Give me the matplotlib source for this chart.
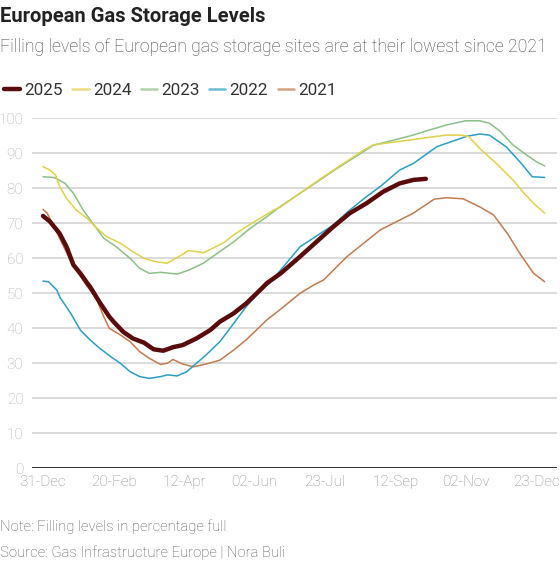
import matplotlib
matplotlib.use("Agg")
import matplotlib.pyplot as plt

plt.rcParams['font.family'] = ['Roboto', 'DejaVu Sans']

# days counted from 31-Dec, values in percent full
days_2025 = [0, 5, 12, 17, 22, 27, 32, 34, 41, 48, 51, 58, 65, 73, 80, 87, 94, 101, 111, 121,
             128, 138, 147, 157, 162, 172, 186, 210, 222, 234, 246, 258, 268, 277]
vals_2025 = [72.1, 70.5, 67.1, 63.3, 58.1, 55.7, 52.9, 51.9, 47.4, 43.3, 41.9, 39.0, 37.1, 35.9, 34.0, 33.6, 34.6, 35.2, 37.1, 39.5,
             41.9, 44.3, 47.1, 50.9, 52.9, 55.7, 60.5, 69.0, 72.9, 75.7, 79.0, 81.4, 82.4, 82.7]

days_2024 = [0, 5, 9, 12, 17, 24, 32, 39, 46, 56, 65, 73, 82, 90, 94, 100, 105, 111, 116, 123,
             131, 138, 147, 157, 167, 172, 196, 212, 232, 239, 256, 280, 292, 302, 308, 316, 328, 340, 348, 355, 363]
vals_2024 = [86.2, 85.2, 83.8, 80.5, 77.1, 73.8, 71.4, 68.6, 66.2, 64.3, 61.9, 60.0, 59.0, 58.6, 59.5, 60.9, 62.2, 61.9, 61.6, 62.9,
             64.5, 66.7, 69.0, 71.4, 73.8, 74.7, 81.4, 85.7, 90.9, 92.4, 93.3, 94.6, 95.2, 95.2, 94.8, 91.4, 87.1, 82.4, 78.6, 75.7, 72.9]

days_2023 = [0, 8, 16, 22, 29, 36, 44, 53, 63, 70, 77, 85, 97, 106, 116, 126, 138, 150, 162, 172,
             196, 212, 232, 239, 256, 266, 280, 292, 306, 316, 323, 331, 340, 350, 357, 363]
vals_2023 = [83.3, 83.1, 81.4, 78.6, 73.8, 70.0, 65.7, 63.3, 60.0, 57.1, 55.7, 56.0, 55.5, 56.7, 58.6, 61.4, 64.7, 68.6, 71.9, 74.9,
             81.2, 85.5, 90.5, 92.3, 94.0, 95.0, 96.7, 98.1, 99.3, 99.3, 98.6, 96.2, 92.4, 89.5, 87.6, 86.4]

days_2022 = [0, 4, 10, 12, 20, 27, 34, 41, 49, 56, 63, 70, 77, 85, 90, 97, 104, 111, 118, 128,
             138, 147, 157, 164, 186, 210, 222, 234, 244, 258, 268, 285, 307, 316, 323, 335, 345, 354, 363]
vals_2022 = [53.5, 53.3, 50.9, 49.0, 44.3, 39.5, 36.7, 34.3, 31.9, 30.0, 27.6, 26.2, 25.7, 26.2, 26.7, 26.4, 27.6, 30.0, 32.4, 36.2,
             41.4, 46.2, 50.5, 52.9, 63.3, 69.5, 73.8, 77.6, 80.5, 85.2, 87.1, 91.9, 94.9, 95.5, 95.2, 91.9, 87.6, 83.3, 83.1]

days_2021 = [0, 3, 8, 15, 22, 29, 32, 36, 39, 44, 48, 56, 63, 70, 77, 85, 90, 94, 101, 109,
             118, 128, 138, 147, 157, 162, 172, 186, 196, 203, 220, 244, 268, 283, 292, 304, 316, 326, 336, 345, 355, 363]
vals_2021 = [74.0, 72.9, 69.0, 63.3, 57.6, 53.8, 51.9, 50.0, 48.1, 43.3, 40.0, 38.1, 36.2, 33.3, 31.4, 29.7, 30.0, 31.1, 29.8, 29.0,
             29.8, 30.9, 33.8, 36.7, 40.5, 42.4, 45.5, 50.0, 52.4, 53.8, 60.5, 68.1, 72.9, 76.9, 77.3, 77.0, 74.7, 72.4, 67.1, 61.4, 55.7, 53.3]

tick_days = [0, 51, 102, 153, 204, 255, 306, 357]
tick_labels = ['31-Dec', '20-Feb', '12-Apr', '02-Jun', '23-Jul', '12-Sep', '02-Nov', '23-Dec']
y_ticks = [0, 10, 20, 30, 40, 50, 60, 70, 80, 90, 100]

series = [
    ('2025', days_2025, vals_2025, '#5a0b0b', 3.2, 6),
    ('2024', days_2024, vals_2024, '#e0d04a', 1.1, 5),
    ('2023', days_2023, vals_2023, '#8cbf88', 1.1, 4),
    ('2022', days_2022, vals_2022, '#2b9ec3', 1.1, 3),
    ('2021', days_2021, vals_2021, '#c27a4e', 1.1, 2),
]

fig = plt.figure(figsize=(5.6, 5.62), dpi=100)
ax = fig.add_axes([0.0566, 0.1667, 0.9375, 0.6228])

for name, d, v, col, lw, z in series:
    ax.plot(d, v, color=col, lw=lw, label=name, zorder=z, solid_capstyle='round', clip_on=False)

ax.set_xlim(-8.2, 371.7)
ax.set_ylim(0, 100)
ax.set_yticks(y_ticks)
ax.set_xticks(tick_days)
ax.set_xticklabels(tick_labels)
ax.grid(axis='y', color='#d4d4d4', lw=1.2)
ax.set_axisbelow(True)
ax.axhline(0, color='#333333', lw=1.4, zorder=1)
for s in ax.spines.values():
    s.set_visible(False)
ax.tick_params(axis='y', length=0, pad=6, labelsize=11, labelcolor='#b0b0b0')
ax.tick_params(axis='x', length=0, pad=5, labelsize=11, labelcolor='#8a8a8a')
for t in ax.get_yticklabels() + ax.get_xticklabels():
    t.set_fontweight('light')

fig.text(0.0, 0.970, 'European Gas Storage Levels', fontsize=14.5, fontweight='bold',
         color='#222222', va='center', ha='left')
fig.text(0.0, 0.916, 'Filling levels of European gas storage sites are at their lowest since 2021',
         fontsize=12.7, color='#444444', va='center', ha='left', fontweight='light')

handles, labels = ax.get_legend_handles_labels()
leg = fig.legend(handles, labels, loc='center left', bbox_to_anchor=(-0.008, 0.839), ncol=5,
                 frameon=False, fontsize=12.3, handlelength=0.95, handletextpad=0.25,
                 columnspacing=0.55, borderpad=0, labelcolor='#333333')
for h in leg.legend_handles[1:]:
    h.set_linewidth(1.8)
    h.set_alpha(0.7)

fig.text(0.0, 1 - 526.7 / 562, 'Note: Filling levels in percentage full', fontsize=10.7,
         color='#555555', va='center', ha='left', fontweight='light')
fig.text(0.0, 1 - 553 / 562, 'Source: Gas Infrastructure Europe | Nora Buli', fontsize=10.7,
         color='#555555', va='center', ha='left', fontweight='light')

fig.savefig('out.png', dpi=100)
